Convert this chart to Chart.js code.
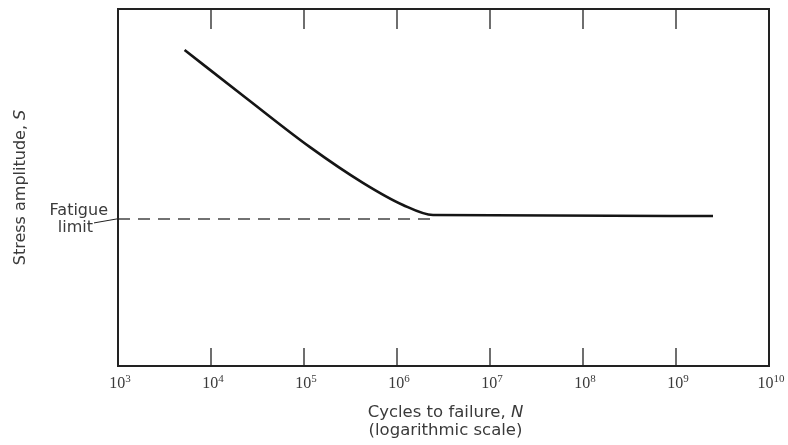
<!DOCTYPE html>
<html>
<head>
<meta charset="utf-8">
<script src="https://cdn.jsdelivr.net/npm/chart.js@4.4.0/dist/chart.umd.min.js"></script>
<style>
  html, body { margin: 0; padding: 0; background: #fff; }
  #wrap { width: 788px; height: 445px; position: relative; }
</style>
</head>
<body>
<div id="wrap"><canvas id="chart"></canvas></div>
<script>
// S-N curve (y is a relative stress scale, 0..100)
const curveCycles = [5200, 24000, 116000, 430000, 1160000, 2440000, 2.5e9];
const curveStress = [88.5, 75, 61.3, 51.3, 45.1, 42.3, 42.0];
const limitCycles = [1e3, 2.3e6];
const limitStress = [41.2, 41.2];
const tickValues = [1e3, 1e4, 1e5, 1e6, 1e7, 1e8, 1e9, 1e10];
const tickExponents = ["3", "4", "5", "6", "7", "8", "9", "10"];

const textColor = "#3a3a3a";
const font = "16px 'DejaVu Sans', sans-serif";
const titleFont = "16.5px 'DejaVu Sans', sans-serif";

// draws "plain" + italic letter, centred at (cx, cy)
function mixedText(ctx, plain, italic, f, cx, cy) {
  ctx.font = f;
  const w1 = ctx.measureText(plain).width;
  ctx.font = "italic " + f;
  const w2 = ctx.measureText(italic).width;
  const sx = cx - (w1 + w2) / 2;
  ctx.textAlign = "left";
  ctx.font = f;
  ctx.fillText(plain, sx, cy);
  ctx.font = "italic " + f;
  ctx.fillText(italic, sx + w1, cy);
}

const framePlugin = {
  id: "frame",
  afterDraw(chart) {
    const { ctx, chartArea: a, scales } = chart;
    const x = scales.x, y = scales.y;
    ctx.save();
    // box
    ctx.strokeStyle = "#222";
    ctx.lineWidth = 2;
    ctx.strokeRect(a.left, a.top, a.right - a.left, a.bottom - a.top);
    // ticks top and bottom, pointing inward
    ctx.lineWidth = 1.3;
    ctx.fillStyle = textColor;
    ctx.textBaseline = "middle";
    tickValues.forEach((v, i) => {
      const px = x.getPixelForValue(v);
      if (i > 0 && i < tickValues.length - 1) {
        ctx.beginPath();
        ctx.moveTo(px, a.bottom);
        ctx.lineTo(px, a.bottom - 18);
        ctx.moveTo(px, a.top);
        ctx.lineTo(px, a.top + 20);
        ctx.stroke();
      }
      // "10" with raised exponent
      ctx.font = "16px 'Liberation Serif', serif";
      const wb = ctx.measureText("10").width;
      ctx.font = "11px 'Liberation Serif', serif";
      const we = ctx.measureText(tickExponents[i]).width;
      const sx = px - (wb + we) / 2 + 2;
      ctx.textAlign = "left";
      ctx.font = "16px 'Liberation Serif', serif";
      ctx.fillText("10", sx, a.bottom + 18);
      ctx.font = "11px 'Liberation Serif', serif";
      ctx.fillText(tickExponents[i], sx + wb, a.bottom + 13);
    });
    // x title
    const cx = (a.left + a.right) / 2;
    mixedText(ctx, "Cycles to failure, ", "N", titleFont, cx + 2, a.bottom + 47);
    ctx.font = titleFont;
    ctx.textAlign = "center";
    ctx.fillText("(logarithmic scale)", cx + 2, a.bottom + 65);
    // y title, rotated
    ctx.save();
    ctx.translate(21, (a.top + a.bottom) / 2);
    ctx.rotate(-Math.PI / 2);
    mixedText(ctx, "Stress amplitude, ", "S", font, 0, 0);
    ctx.restore();
    // fatigue limit label
    const ly = y.getPixelForValue(limitStress[0]);
    ctx.font = font;
    ctx.textAlign = "right";
    ctx.fillText("Fatigue", a.left - 10, ly - 8);
    ctx.fillText("limit", a.left - 25, ly + 9);
    ctx.beginPath();
    ctx.lineWidth = 1;
    ctx.moveTo(a.left - 24, ly + 4);
    ctx.lineTo(a.left - 1, ly);
    ctx.stroke();
    ctx.restore();
  }
};

new Chart(document.getElementById("chart"), {
  type: "line",
  data: {
    datasets: [
      {
        label: "S-N curve",
        data: curveCycles.map((c, i) => ({ x: c, y: curveStress[i] })),
        borderColor: "#151515",
        borderWidth: 2.6,
        pointRadius: 0,
        cubicInterpolationMode: "monotone"
      },
      {
        label: "Fatigue limit",
        data: limitCycles.map((c, i) => ({ x: c, y: limitStress[i] })),
        borderColor: "#444",
        borderWidth: 1.5,
        borderDash: [12, 8],
        pointRadius: 0
      }
    ]
  },
  options: {
    responsive: true,
    maintainAspectRatio: false,
    animation: false,
    layout: { padding: { left: 118, right: 19, top: 9, bottom: 79 } },
    scales: {
      x: { type: "logarithmic", min: 1e3, max: 1e10, display: false },
      y: { type: "linear", min: 0, max: 100, display: false }
    },
    plugins: {
      legend: { display: false },
      tooltip: { enabled: false }
    }
  },
  plugins: [framePlugin]
});
</script>
</body>
</html>
